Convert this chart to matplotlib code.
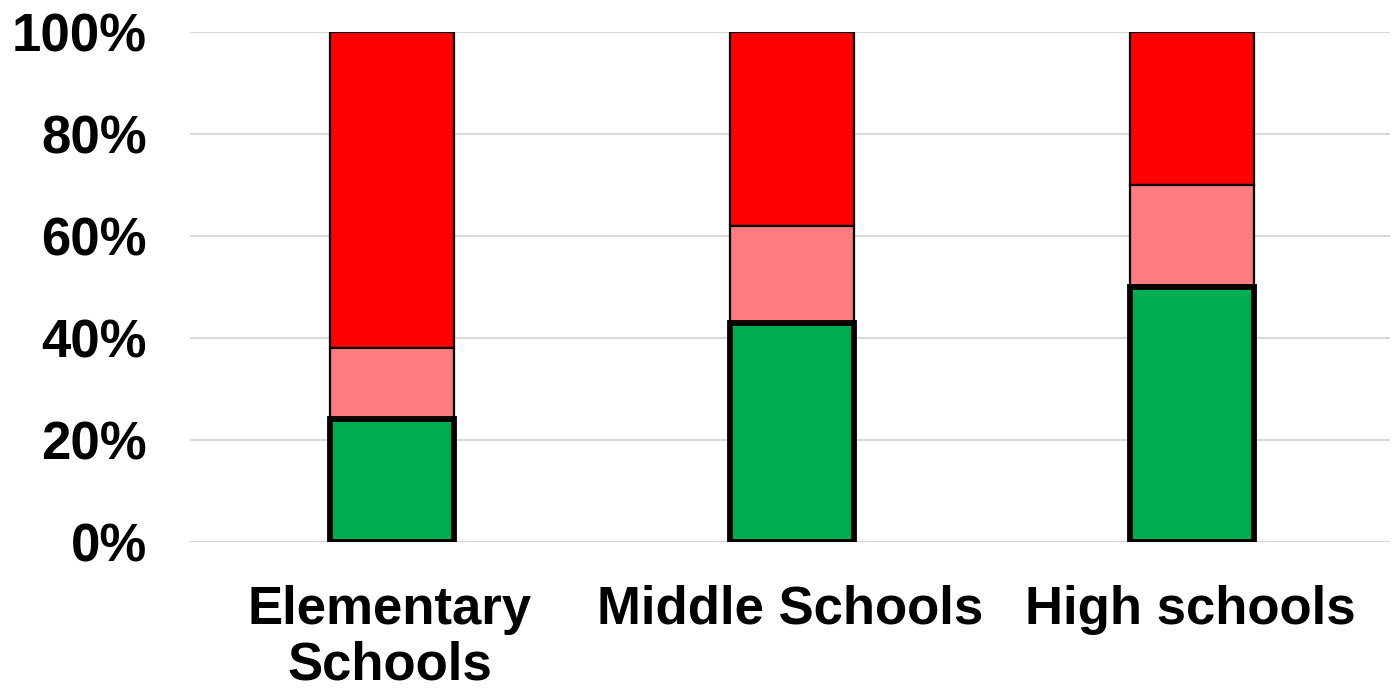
import numpy as np
import matplotlib
matplotlib.use("Agg")
import matplotlib.pyplot as plt

# data (percent share per school level)
categories = ["Elementary\nSchools", "Middle Schools", "High schools"]
green_vals = [24, 43, 50]
pink_vals = [14, 19, 20]
red_vals = [62, 38, 30]

plt.rcParams.update({
    "font.family": ["Liberation Sans", "DejaVu Sans"],
    "font.weight": "bold",
})

fig = plt.figure(figsize=(13.93, 6.88), dpi=100)
ax = fig.add_axes([0.1364, 0.2126, 0.8614, 0.7409])

x = np.arange(len(categories))
width = 0.31

g = np.array(green_vals)
p = np.array(pink_vals)
r = np.array(red_vals)

ax.bar(x + 0.005, r, width, bottom=g + p, color="#FF0000", edgecolor="black",
       linewidth=1.6, zorder=3)
ax.bar(x + 0.005, p, width, bottom=g, color="#FF7C80", edgecolor="black",
       linewidth=1.6, zorder=3)
ax.bar(x + 0.005, g, width, color="#00B050", edgecolor="black",
       linewidth=4.2, zorder=4)

ax.set_xlim(-0.5, 2.5)
ax.set_ylim(0, 100)
ax.set_yticks(range(0, 101, 20))
ax.set_yticklabels([f"{v}%" for v in range(0, 101, 20)])
ax.yaxis.grid(True, color="#d9d9d9", linewidth=1.5, zorder=0)
ax.set_axisbelow(True)

ax.set_xticks(x)
ax.set_xticklabels(categories, linespacing=1.15)
ax.tick_params(axis="both", length=0, labelsize=38)
ax.tick_params(axis="x", pad=31)
ax.tick_params(axis="y", pad=31)
for lbl in ax.get_xticklabels() + ax.get_yticklabels():
    lbl.set_fontweight("bold")

for s in ax.spines.values():
    s.set_visible(False)

fig.savefig("out.png", dpi=100)
